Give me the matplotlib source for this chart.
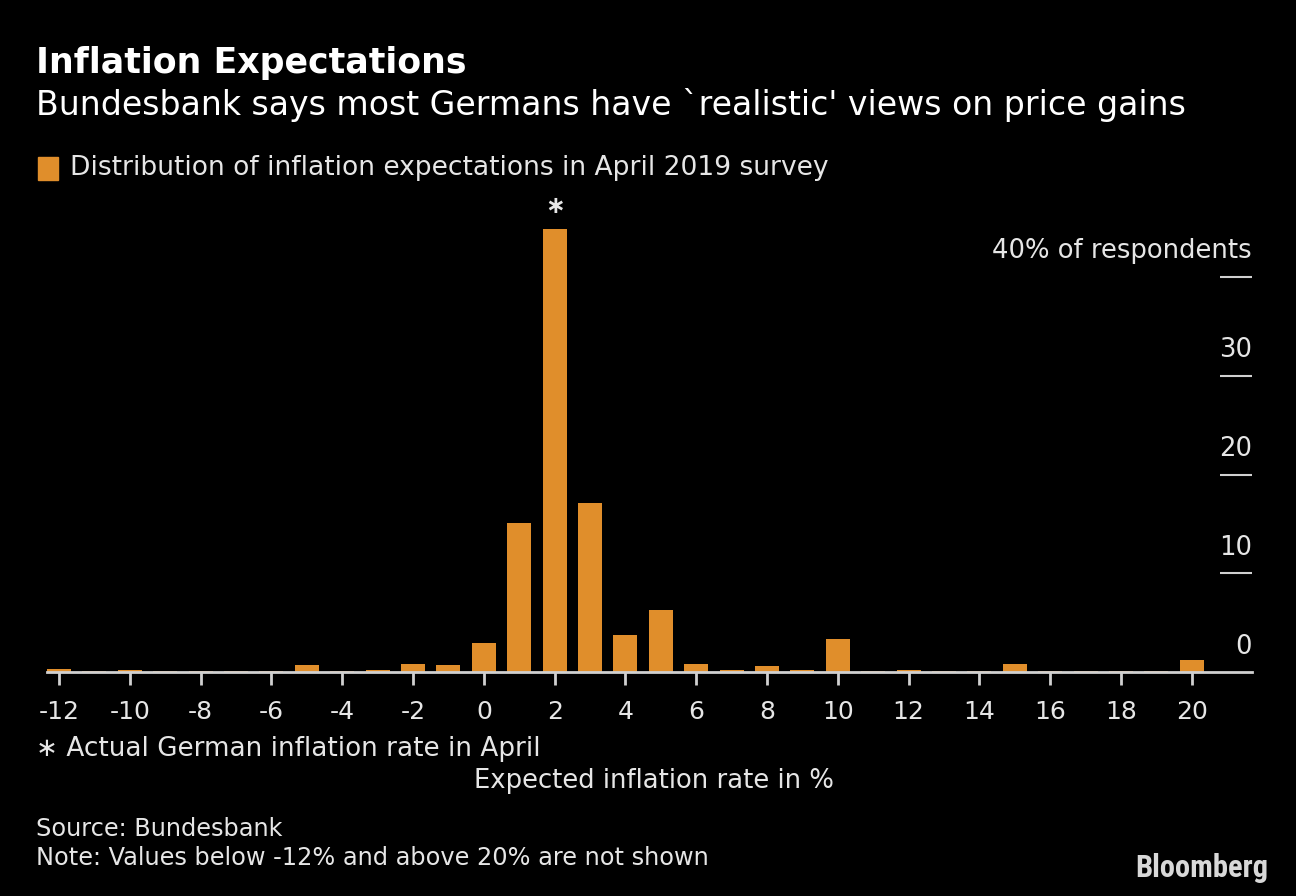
import matplotlib
matplotlib.use("Agg")
import matplotlib.pyplot as plt
import matplotlib.transforms as mtransforms
from matplotlib.patches import Rectangle

# ---- data ----
rates = list(range(-12, 21))
shares = [0.3, 0.1, 0.2, 0.1, 0.1, 0.1, 0.1, 0.7, 0.1, 0.2, 0.85, 0.7,
          2.9, 15.1, 44.9, 17.1, 3.7, 6.3, 0.85, 0.25, 0.65, 0.25, 3.3,
          0.1, 0.25, 0.1, 0.1, 0.85, 0.1, 0.1, 0.1, 0.1, 1.25]
xticks = list(range(-12, 21, 2))
yticks = [10, 20, 30, 40]
ylabels = ["0", "10", "20", "30", "40% of respondents"]
ylabel_vals = [0, 10, 20, 30, 40]
actual_rate = 2

BG = "black"
ORANGE = "#E08E2B"
TXT = "#E6E6E6"
plt.rcParams["font.family"] = ["DejaVu Sans"]

W, H = 1296, 896
fig = plt.figure(figsize=(W / 100, H / 100), dpi=100, facecolor=BG)
ymax = 46
x0, x1 = 47, 1252
y_base = 672
px_per_unit = 9.875
top_px = y_base - ymax * px_per_unit
ax = fig.add_axes([x0 / W, 1 - y_base / H, (x1 - x0) / W, (y_base - top_px) / H])
ax.set_facecolor(BG)

ax.bar(rates, shares, width=0.68, color=ORANGE, zorder=2)
ax.set_xlim(-12.34, 21.7)
ax.set_ylim(0, ymax)

for s in ["top", "left", "right"]:
    ax.spines[s].set_visible(False)
ax.spines["bottom"].set_color("#D0D0D0")
ax.spines["bottom"].set_linewidth(2)
ax.spines["bottom"].set_zorder(3)

ax.set_xticks(xticks)
ax.set_xticklabels([str(t) for t in xticks])
ax.tick_params(axis="x", direction="out", length=9, width=2, color="#D0D0D0",
               labelcolor=TXT, labelsize=18, pad=11)

ax.yaxis.tick_right()
ax.set_yticks(yticks)
ax.tick_params(axis="y", direction="in", length=23, width=1.5, color="#D0D0D0",
               labelright=False, labelleft=False)

trans = mtransforms.blended_transform_factory(ax.transAxes, ax.transData)
off = mtransforms.offset_copy(trans, fig=fig, x=0, y=9, units="points")
for v, lab in zip(ylabel_vals, ylabels):
    ax.text(1.0, v, lab, transform=off, ha="right", va="bottom",
            color=TXT, fontsize=18.6)

ax.text(actual_rate, max(shares) + 2.3, "\u2217", ha="center", va="center",
        color=TXT, fontsize=17, fontweight="bold")

# ---- titles & notes ----
fig.text(36 / W, 1 - 63 / H, "Inflation Expectations", color="white",
         fontsize=25, fontweight="bold", va="center", ha="left")
fig.text(36 / W, 1 - 105 / H, "Bundesbank says most Germans have `realistic' views on price gains",
         color="white", fontsize=23.9, va="center", ha="left")
fig.patches.append(Rectangle((38 / W, 1 - 180 / H), 20 / W, 23 / H,
                             transform=fig.transFigure, color=ORANGE))
fig.text(70 / W, 1 - 168 / H, "Distribution of inflation expectations in April 2019 survey",
         color=TXT, fontsize=19.1, va="center", ha="left")

fig.text(36 / W, 1 - 749 / H, "\u2217 Actual German inflation rate in April",
         color=TXT, fontsize=18.9, va="center", ha="left")
fig.text(654 / W, 1 - 781 / H, "Expected inflation rate in %",
         color=TXT, fontsize=18.6, va="center", ha="center")
fig.text(36 / W, 1 - 829 / H, "Source: Bundesbank",
         color=TXT, fontsize=17.3, va="center", ha="left")
fig.text(36 / W, 1 - 858 / H, "Note: Values below -12% and above 20% are not shown",
         color=TXT, fontsize=17.3, va="center", ha="left")
fig.text(1268 / W, 1 - 868 / H, "Bloomberg", color="#D8D8D8",
         fontsize=22, fontweight="bold", va="center", ha="right",
         family=["Roboto Condensed", "Liberation Sans Narrow", "Roboto", "DejaVu Sans"])

fig.savefig("out.png", dpi=100, facecolor=BG)
